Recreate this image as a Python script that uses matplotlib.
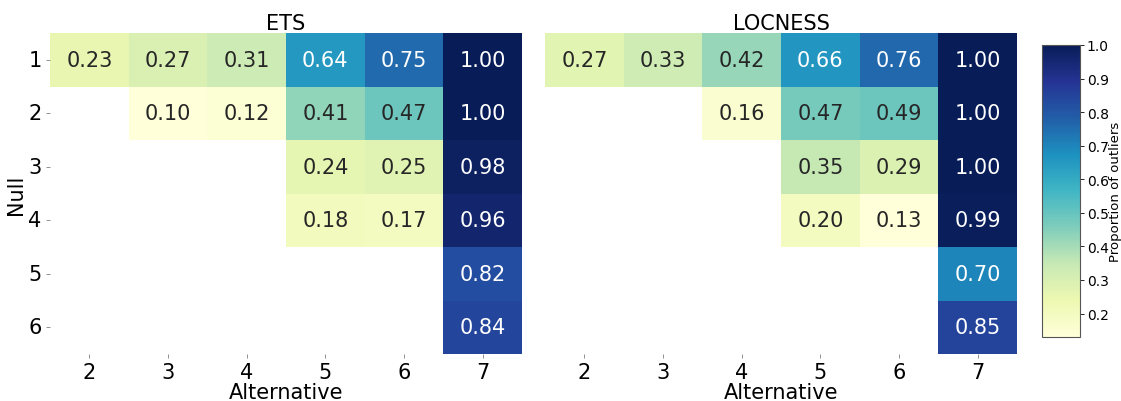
import numpy as np
import pandas as pd
import matplotlib
matplotlib.use("Agg")
import matplotlib.pyplot as plt
import seaborn as sns

# null model sizes (rows) vs alternative sizes (columns)
null_sizes = [1, 2, 3, 4, 5, 6]
alt_sizes = [2, 3, 4, 5, 6, 7]

nan = np.nan
ets_vals = [
    [0.23, 0.27, 0.31, 0.64, 0.75, 1.00],
    [nan, 0.10, 0.12, 0.41, 0.47, 1.00],
    [nan, nan, nan, 0.24, 0.25, 0.98],
    [nan, nan, nan, 0.18, 0.17, 0.96],
    [nan, nan, nan, nan, nan, 0.82],
    [nan, nan, nan, nan, nan, 0.84],
]
locness_vals = [
    [0.27, 0.33, 0.42, 0.66, 0.76, 1.00],
    [nan, nan, 0.16, 0.47, 0.49, 1.00],
    [nan, nan, nan, 0.35, 0.29, 1.00],
    [nan, nan, nan, 0.20, 0.13, 0.99],
    [nan, nan, nan, nan, nan, 0.70],
    [nan, nan, nan, nan, nan, 0.85],
]

titles = ["ETS", "LOCNESS"]
datasets = [ets_vals, locness_vals]

fig = plt.figure(figsize=(11.21, 4.02), dpi=100)
ax1 = fig.add_axes([0.0446, 0.1169, 0.4211, 0.7985])
ax2 = fig.add_axes([0.4862, 0.1169, 0.4211, 0.7985])
cax = fig.add_axes([0.9295, 0.1592, 0.0339, 0.7264])

for i, (ax, title, vals) in enumerate(zip([ax1, ax2], titles, datasets)):
    df = pd.DataFrame(vals, index=null_sizes, columns=alt_sizes)
    sns.heatmap(df, ax=ax, cmap="YlGnBu", annot=True, fmt=".2f",
                annot_kws={"fontsize": 15},
                cbar=(i == 1), cbar_ax=cax if i == 1 else None,
                cbar_kws={"label": "Proportion of outliers"})
    ax.set_title(title, fontsize=15, pad=3)
    ax.set_xlabel("Alternative", fontsize=15, labelpad=0)
    ax.tick_params(axis="both", labelsize=15, length=3, width=0.6, color="gray", pad=3)
    ax.set_yticklabels(null_sizes, rotation=0)
    ax.set_xticklabels(alt_sizes, rotation=0)

ax1.set_ylabel("Null", fontsize=15)
ax1.yaxis.set_label_coords(-0.05, 0.5)
ax2.set_ylabel("")
ax2.set_yticks([])

cax.tick_params(labelsize=10, length=3, width=0.6, pad=2)
cax.yaxis.label.set_size(9.5)
cax.yaxis.set_label_coords(1.77, 0.5)
cb_outline = ax2.collections[0].colorbar.outline
cb_outline.set_visible(True)
cb_outline.set_edgecolor("#555555")
cb_outline.set_linewidth(0.8)

fig.savefig("out.png", dpi=100)
